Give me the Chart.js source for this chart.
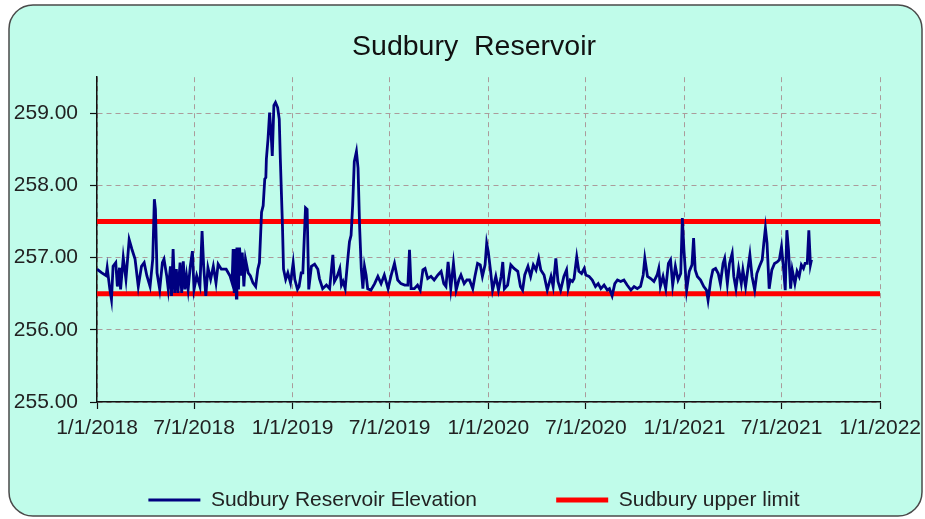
<!DOCTYPE html>
<html>
<head>
<meta charset="utf-8">
<title>Sudbury Reservoir</title>
<script src="https://cdn.jsdelivr.net/npm/chart.js@4.4.1/dist/chart.umd.min.js"></script>
<style>
    html, body { margin: 0; padding: 0; background: #ffffff; }
    #chart { display: block; }
</style>
</head>
<body>
<canvas id="chart" width="925" height="519"></canvas>
<script>
    // days counted from 1/1/2018
    var dayOffsets = [
        0, 9, 17, 19, 24, 27, 30, 35, 38, 42, 44, 49, 54, 60, 65, 71, 77, 83, 88, 93,
        99, 104, 107, 109, 112, 117, 122, 125, 130, 133, 137, 139, 142, 145, 148, 151, 155, 158, 161, 164,
        167, 170, 174, 178, 181, 186, 192, 196, 199, 203, 207, 212, 217, 222, 226, 232, 241, 248, 252, 254,
        256, 258, 260, 261, 264, 266, 269, 271, 274, 277, 282, 286, 291, 296, 300, 303, 307, 310, 313, 315,
        316, 319, 322, 325, 327, 330, 333, 337, 340, 342, 346, 348, 352, 356, 361, 366, 369, 374, 377, 381,
        384, 389, 392, 395, 400, 406, 412, 415, 421, 428, 434, 440, 443, 448, 453, 456, 459, 463, 468, 471,
        474, 477, 480, 484, 487, 490, 493, 496, 499, 502, 505, 511, 518, 524, 530, 536, 543, 549, 555, 561,
        567, 574, 580, 583, 586, 592, 598, 603, 608, 612, 617, 623, 629, 636, 642, 647, 651, 655, 660, 665,
        670, 675, 679, 685, 690, 695, 701, 705, 710, 715, 719, 724, 727, 730, 734, 738, 744, 749, 754, 757,
        760, 766, 772, 778, 785, 790, 794, 798, 804, 809, 814, 819, 824, 828, 834, 840, 847, 851, 856, 860,
        865, 871, 876, 879, 883, 887, 890, 892, 895, 899, 904, 909, 912, 918, 924, 930, 935, 940, 946, 952,
        956, 961, 966, 971, 977, 983, 989, 996, 1002, 1008, 1014, 1019, 1022, 1027, 1033, 1039, 1045, 1048, 1051, 1056,
        1061, 1066, 1070, 1074, 1079, 1084, 1089, 1092, 1095, 1100, 1105, 1110, 1113, 1116, 1120, 1126, 1132, 1137, 1140, 1145,
        1149, 1154, 1159, 1163, 1168, 1171, 1176, 1180, 1185, 1188, 1192, 1197, 1202, 1205, 1210, 1215, 1218, 1222, 1227, 1231,
        1236, 1241, 1244, 1247, 1250, 1254, 1259, 1264, 1269, 1273, 1277, 1281, 1284, 1287, 1290, 1294, 1297, 1302, 1306, 1310,
        1314, 1318, 1321, 1325, 1328, 1331, 1333
    ];

    var elevation = [
        256.84, 256.79, 256.75, 256.86, 256.56, 256.42, 256.88, 256.93, 256.60, 256.86, 256.56, 257.00, 256.70, 257.25, 257.12, 256.98, 256.60, 256.88, 256.93, 256.75,
        256.60, 256.98, 257.81, 257.67, 256.79, 256.56, 256.93, 256.98, 256.75, 256.56, 256.88, 256.47, 257.12, 256.51, 256.84, 256.51, 256.93, 256.51, 256.95, 256.56,
        256.75, 256.56, 256.88, 257.09, 256.56, 256.75, 256.60, 257.37, 256.88, 256.47, 256.86, 256.70, 256.88, 256.65, 256.91, 256.84, 256.84, 256.75, 256.65, 257.12,
        256.51, 257.12, 256.44, 257.14, 256.56, 257.14, 256.75, 257.07, 256.60, 256.98, 256.79, 256.75, 256.65, 256.60, 256.84, 256.93, 257.63, 257.72, 258.09, 258.11,
        258.37, 258.64, 259.01, 258.69, 258.41, 259.11, 259.15, 259.08, 258.92, 258.37, 257.44, 256.84, 256.70, 256.79, 256.65, 256.93, 256.70, 256.56, 256.60, 256.79,
        256.79, 257.69, 257.67, 256.56, 256.88, 256.91, 256.84, 256.71, 256.57, 256.62, 256.57, 257.04, 256.67, 256.74, 256.85, 256.62, 256.67, 256.57, 256.99, 257.22,
        257.31, 257.73, 258.33, 258.47, 258.24, 257.41, 256.85, 256.57, 256.88, 256.76, 256.57, 256.55, 256.64, 256.74, 256.64, 256.76, 256.57, 256.76, 256.92, 256.69,
        256.64, 256.62, 256.62, 257.11, 256.57, 256.57, 256.62, 256.55, 256.83, 256.85, 256.71, 256.74, 256.69, 256.76, 256.81, 256.64, 256.60, 256.94, 256.57, 256.92,
        256.55, 256.69, 256.76, 256.64, 256.69, 256.69, 256.57, 256.74, 256.92, 256.90, 256.74, 256.90, 257.20, 257.08, 256.83, 256.55, 256.74, 256.55, 256.74, 256.94,
        256.57, 256.62, 256.90, 256.85, 256.81, 256.60, 256.55, 256.76, 256.88, 256.74, 256.90, 256.83, 256.99, 256.83, 256.76, 256.55, 256.74, 256.60, 256.99, 256.67,
        256.55, 256.74, 256.83, 256.57, 256.69, 256.67, 256.71, 256.83, 257.01, 256.81, 256.78, 256.85, 256.76, 256.74, 256.69, 256.60, 256.64, 256.57, 256.62, 256.55,
        256.57, 256.47, 256.64, 256.69, 256.67, 256.69, 256.62, 256.55, 256.60, 256.57, 256.60, 256.76, 256.99, 256.74, 256.71, 256.67, 256.76, 256.85, 256.60, 256.74,
        256.57, 256.92, 256.97, 256.62, 256.88, 256.69, 256.78, 257.55, 257.11, 256.55, 256.81, 256.90, 257.27, 256.83, 256.74, 256.69, 256.60, 256.55, 256.41, 256.69,
        256.83, 256.85, 256.78, 256.64, 256.92, 256.99, 256.64, 256.92, 257.06, 256.74, 256.57, 256.85, 256.64, 256.83, 256.60, 256.88, 257.04, 256.74, 256.55, 256.78,
        256.88, 256.97, 257.20, 257.41, 257.20, 256.57, 256.83, 256.92, 256.94, 256.97, 257.15, 256.83, 256.55, 257.38, 257.11, 256.57, 256.83, 256.64, 256.81, 256.74,
        256.90, 256.85, 256.92, 256.92, 257.38, 256.90, 256.97
    ];

    var upperLimit = 257.5;
    var lowerLimit = 256.5;
    var limitDays = [0, 1461];

    var tickDays = [0, 181, 365, 546, 730, 912, 1096, 1277, 1461];
    var tickLabels = ['1/1/2018', '7/1/2018', '1/1/2019', '7/1/2019', '1/1/2020', '7/1/2020', '1/1/2021', '7/1/2021', '1/1/2022'];
    var yTicks = [255, 256, 257, 258, 259];

    var FONT = 'Liberation Sans, Arial, sans-serif';
    var TEXT = '#222222';
    var GRID = '#ab9b9b';

    // rounded mint panel behind the chart
    var panelPlugin = {
        id: 'panel',
        beforeDraw: function(chart) {
            var ctx = chart.ctx;
            var x = 9, y = 5, w = 913, h = 511, r = 24;
            ctx.save();
            ctx.beginPath();
            ctx.moveTo(x + r, y);
            ctx.lineTo(x + w - r, y);
            ctx.arcTo(x + w, y, x + w, y + r, r);
            ctx.lineTo(x + w, y + h - r);
            ctx.arcTo(x + w, y + h, x + w - r, y + h, r);
            ctx.lineTo(x + r, y + h);
            ctx.arcTo(x, y + h, x, y + h - r, r);
            ctx.lineTo(x, y + r);
            ctx.arcTo(x, y, x + r, y, r);
            ctx.closePath();
            ctx.fillStyle = '#c0fcea';
            ctx.fill();
            ctx.lineWidth = 1.5;
            ctx.strokeStyle = '#4a4a4a';
            ctx.stroke();
            ctx.restore();
        }
    };

    function points(xs, ys) {
        return xs.map(function(d, i) { return {x: d, y: ys[i]}; });
    }

    var ctx = document.getElementById('chart').getContext('2d');
    new Chart(ctx, {
        type: 'line',
        data: {
            datasets: [{
                label: 'Sudbury Reservoir Elevation',
                data: points(dayOffsets, elevation),
                borderColor: '#000080',
                backgroundColor: '#000080',
                borderWidth: 2.8,
                pointRadius: 0,
                tension: 0
            }, {
                label: 'Sudbury upper limit',
                data: points(limitDays, [upperLimit, upperLimit]),
                borderColor: '#ff0000',
                backgroundColor: '#ff0000',
                borderWidth: 5,
                pointRadius: 0
            }, {
                label: 'Sudbury lower limit',
                data: points(limitDays, [lowerLimit, lowerLimit]),
                borderColor: '#ff0000',
                backgroundColor: '#ff0000',
                borderWidth: 5,
                pointRadius: 0
            }]
        },
        options: {
            responsive: false,
            animation: false,
            devicePixelRatio: 1,
            layout: {
                padding: {left: 9, right: -14, top: 0, bottom: -1.5}
            },
            scales: {
                x: {
                    type: 'linear',
                    min: 0,
                    max: 1461,
                    afterBuildTicks: function(scale) {
                        scale.ticks = tickDays.map(function(v) { return {value: v}; });
                    },
                    afterFit: function(scale) {
                        scale.height = 37.5;
                    },
                    ticks: {
                        autoSkip: false,
                        maxRotation: 0,
                        padding: 4,
                        color: TEXT,
                        font: {family: FONT, size: 21, lineHeight: 1.45},
                        callback: function(value, index) {
                            return tickLabels[index];
                        }
                    },
                    grid: {
                        color: GRID,
                        lineWidth: 1,
                        tickLength: 7,
                        tickColor: '#111111',
                        tickBorderDash: [],
                        tickWidth: 1.2
                    },
                    border: {display: true, color: '#111111', width: 1.5, dash: [5, 4]}
                },
                y: {
                    min: 255,
                    max: 259.5,
                    afterBuildTicks: function(scale) {
                        scale.ticks = yTicks.map(function(v) { return {value: v}; });
                    },
                    afterFit: function(scale) {
                        scale.width = 88;
                    },
                    ticks: {
                        padding: 12,
                        color: TEXT,
                        font: {family: FONT, size: 21},
                        callback: function(value) {
                            return Number(value).toFixed(2);
                        }
                    },
                    grid: {
                        color: GRID,
                        lineWidth: 1,
                        tickLength: 7,
                        tickColor: '#111111',
                        tickBorderDash: [],
                        tickWidth: 1.2
                    },
                    border: {display: true, color: '#111111', width: 1.5, dash: [5, 4]}
                }
            },
            plugins: {
                title: {
                    display: true,
                    text: 'Sudbury  Reservoir',
                    color: '#111111',
                    font: {family: FONT, size: 28.5, weight: 'normal'},
                    padding: {top: 30, bottom: 13}
                },
                legend: {
                    position: 'bottom',
                    labels: {
                        usePointStyle: true,
                        pointStyle: 'line',
                        pointStyleWidth: 52,
                        padding: 50,
                        color: TEXT,
                        font: {family: FONT, size: 21},
                        filter: function(item) {
                            return item.datasetIndex !== 2;
                        },
                        generateLabels: function(chart) {
                            var items = Chart.defaults.plugins.legend.labels.generateLabels(chart);
                            // widen the gap after the first entry
                            items[0].text = items[0].text + '     ';
                            return items;
                        }
                    }
                },
                tooltip: {enabled: false}
            }
        },
        plugins: [panelPlugin]
    });
</script>
</body>
</html>
